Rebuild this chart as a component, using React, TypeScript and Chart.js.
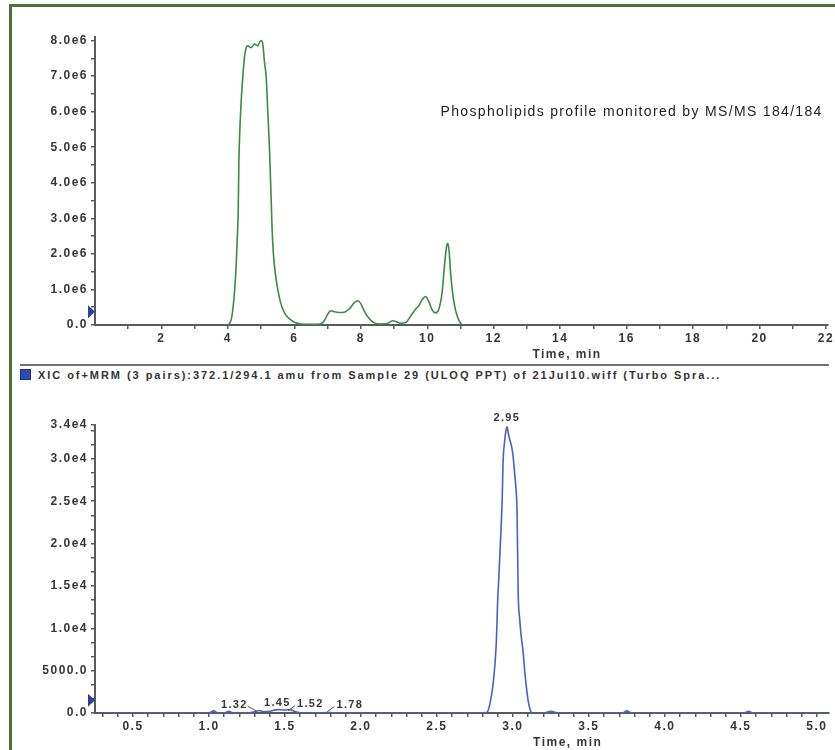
import React, { useEffect, useRef } from 'react';
import { Chart, registerables } from 'chart.js';

Chart.register(...registerables);

// ---------- Top panel: phospholipid profile (MS/MS 184/184) ----------
const topTimes = [
  4.0, 4.05, 4.1, 4.15, 4.2, 4.25, 4.28, 4.31, 4.33, 4.36, 4.4, 4.45, 4.5, 4.55, 4.6, 4.7, 4.8, 4.9, 4.95, 5.0,
  5.05, 5.1, 5.15, 5.2, 5.25, 5.3, 5.33, 5.37, 5.42, 5.5, 5.58, 5.67, 5.77, 5.88, 6.0, 6.2, 6.5, 6.8, 6.9, 7.0,
  7.1, 7.2, 7.35, 7.5, 7.65, 7.8, 7.9, 8.0, 8.1, 8.25, 8.4, 8.6, 8.8, 8.95, 9.05, 9.2, 9.35, 9.5, 9.65, 9.75,
  9.85, 9.95, 10.05, 10.15, 10.25, 10.35, 10.45, 10.52, 10.58, 10.62, 10.66, 10.7, 10.75, 10.82, 10.9, 10.98, 11.05,
];
const topIntensity = [
  0, 50000, 150000, 450000, 950000, 1700000, 2400000, 3200000, 4600000, 5500000, 6300000, 7000000, 7550000, 7800000, 7850000, 7800000, 7900000, 7850000, 7950000, 8000000,
  7900000, 7400000, 7000000, 6000000, 5000000, 3600000, 2700000, 2000000, 1500000, 1000000, 650000, 400000, 250000, 150000, 80000, 30000, 20000, 30000, 120000, 300000,
  400000, 370000, 350000, 360000, 450000, 620000, 680000, 600000, 400000, 180000, 60000, 30000, 40000, 120000, 100000, 50000, 70000, 250000, 450000, 550000,
  720000, 800000, 650000, 420000, 340000, 450000, 950000, 1700000, 2200000, 2300000, 2050000, 1500000, 1000000, 550000, 250000, 80000, 0,
];
const topXRange = [0, 22.06];
const topYRange = [0, 8.1e6];
const topXMajorValues = [2, 4, 6, 8, 10, 12, 14, 16, 18, 20, 22];
const topXMajorLabels = ['2', '4', '6', '8', '10', '12', '14', '16', '18', '20', '22'];
const topYMajorValues = [0, 1e6, 2e6, 3e6, 4e6, 5e6, 6e6, 7e6, 8e6];
const topYMajorLabels = ['0.0', '1.0e6', '2.0e6', '3.0e6', '4.0e6', '5.0e6', '6.0e6', '7.0e6', '8.0e6'];
const topAnnotation = 'Phospholipids profile monitored by MS/MS 184/184';
const topAnnotationAt = [10.4, 6.0e6];
const topMarkerLevel = 0.37e6;

// ---------- Bottom panel: XIC of +MRM 372.1/294.1 ----------
const bottomTimes = [
  0.3, 1.0, 1.03, 1.06, 1.1, 1.13, 1.16, 1.25, 1.3, 1.33, 1.36, 1.4, 1.45, 1.5, 1.53, 1.57, 1.62, 1.75, 1.78, 1.82,
  2.5, 2.8, 2.83, 2.85, 2.87, 2.89, 2.9, 2.91, 2.92, 2.93, 2.935, 2.945, 2.955, 2.962, 2.97, 2.98, 2.99, 3.0, 3.01, 3.02,
  3.027, 3.035, 3.045, 3.055, 3.066, 3.08, 3.1, 3.115, 3.13, 3.2, 3.25, 3.3, 3.72, 3.75, 3.78, 4.52, 4.55, 4.58, 5.05,
];
const bottomIntensity = [
  0, 0, 250, 0, 0, 200, 0, 0, 150, 300, 150, 200, 400, 350, 400, 150, 0, 0, 80, 0,
  0, 0, 100, 1200, 3500, 8000, 13300, 17000, 21000, 25500, 29500, 32000, 33400, 33800, 33000, 32200, 31600, 30500, 28600, 26500,
  24000, 14000, 11000, 9000, 7400, 4500, 1500, 300, 0, 0, 200, 0, 0, 250, 0, 0, 200, 0, 0,
];
const bottomXRange = [0.25, 5.08];
const bottomYRange = [0, 34000];
const bottomXMajorValues = [0.5, 1.0, 1.5, 2.0, 2.5, 3.0, 3.5, 4.0, 4.5, 5.0];
const bottomXMajorLabels = ['0.5', '1.0', '1.5', '2.0', '2.5', '3.0', '3.5', '4.0', '4.5', '5.0'];
const bottomYMajorValues = [0, 5000, 10000, 15000, 20000, 25000, 30000, 34000];
const bottomYMajorLabels = ['0.0', '5000.0', '1.0e4', '1.5e4', '2.0e4', '2.5e4', '3.0e4', '3.4e4'];
const bottomPeakTimes = [1.32, 1.45, 1.52, 1.78, 2.96];
const bottomPeakHeights = [100, 150, 150, 60, 33800];
const bottomPeakLabels = ['1.32', '1.45', '1.52', '1.78', '2.95'];
const bottomMarkerLevel = 1500;

const headerText = 'XIC of+MRM (3 pairs):372.1/294.1 amu from Sample 29 (ULOQ PPT) of 21Jul10.wiff (Turbo Spra...';
const axisTitleText = 'Time, min';

// ---------- helpers ----------
const FONT = '"Liberation Sans", Arial, sans-serif';
const AXIS_COLOR = '#5a5a5a';
const LABEL_COLOR = '#363636';

type TickItem = { value: number; label: string };

function buildTicks(min: number, max: number, minorStep: number, majors: number[], labels: string[]): TickItem[] {
  const out: TickItem[] = [];
  const start = Math.ceil(min / minorStep - 1e-9);
  for (let i = start; i * minorStep <= max + minorStep * 1e-6; i++) {
    out.push({ value: +(i * minorStep).toFixed(6), label: '' });
  }
  majors.forEach((m, k) => {
    const f = out.find((t) => Math.abs(t.value - m) < minorStep * 1e-3);
    if (f) f.label = labels[k];
    else out.push({ value: m, label: labels[k] });
  });
  out.sort((a, b) => a.value - b.value);
  return out;
}

function scaleOptions(axis: 'x' | 'y', range: number[], ticks: TickItem[]) {
  return {
    type: 'linear',
    position: axis === 'x' ? 'bottom' : 'left',
    min: range[0],
    max: range[1],
    z: 1,
    afterBuildTicks: (s: any) => {
      s.ticks = ticks.map((t) => ({ value: t.value }));
    },
    afterFit: (s: any) => {
      if (axis === 'x') {
        s.height = 37;
        s.paddingLeft = 0;
        s.paddingRight = 0;
      } else {
        s.width = 83;
        s.paddingTop = 0;
        s.paddingBottom = 0;
      }
    },
    ticks: {
      autoSkip: false,
      maxRotation: 0,
      minRotation: 0,
      padding: axis === 'x' ? 2 : 3,
      color: LABEL_COLOR,
      font: { family: FONT, size: 12, weight: 'bold' },
      callback: (value: number) => {
        const t = ticks.find((k) => Math.abs(k.value - value) <= 1e-6 * Math.max(1, Math.abs(value)));
        return t ? t.label : '';
      },
    },
    grid: { display: true, drawOnChartArea: false, drawTicks: true, tickLength: 4, color: AXIS_COLOR, lineWidth: 1.5 },
    border: { display: true, color: AXIS_COLOR, width: 2 },
  };
}

const spacingPlugin = {
  id: 'spacing',
  beforeLayout(chart: any) {
    chart.ctx.letterSpacing = '1.5px';
  },
  beforeDraw(chart: any) {
    chart.ctx.letterSpacing = '1.5px';
  },
};

function drawMarker(ctx: CanvasRenderingContext2D, xTip: number, y: number) {
  ctx.save();
  ctx.fillStyle = '#2a3fa6';
  ctx.beginPath();
  ctx.moveTo(xTip, y);
  ctx.lineTo(xTip - 7, y - 6.5);
  ctx.lineTo(xTip - 7, y + 6.5);
  ctx.closePath();
  ctx.fill();
  ctx.restore();
}

function drawAxisTitle(chart: any) {
  const { ctx, chartArea } = chart;
  ctx.save();
  ctx.letterSpacing = '1.5px';
  ctx.font = `bold 12px ${FONT}`;
  ctx.fillStyle = LABEL_COLOR;
  ctx.textAlign = 'center';
  ctx.textBaseline = 'middle';
  ctx.fillText(axisTitleText, chartArea.left + (chartArea.right - chartArea.left) * 0.644, chartArea.bottom + 30);
  ctx.restore();
}

const topOverlay = {
  id: 'topOverlay',
  afterDraw(chart: any) {
    const { ctx, scales } = chart;
    ctx.save();
    ctx.letterSpacing = '1.33px';
    ctx.font = `14px ${FONT}`;
    ctx.fillStyle = '#1e1e1e';
    ctx.textAlign = 'left';
    ctx.textBaseline = 'middle';
    ctx.fillText(topAnnotation, scales.x.getPixelForValue(topAnnotationAt[0]), scales.y.getPixelForValue(topAnnotationAt[1]));
    ctx.restore();
    drawAxisTitle(chart);
    drawMarker(ctx, chart.chartArea.left, scales.y.getPixelForValue(topMarkerLevel));
  },
};

const bottomOverlay = {
  id: 'bottomOverlay',
  afterDraw(chart: any) {
    const { ctx, scales } = chart;
    ctx.save();
    ctx.letterSpacing = '1.3px';
    ctx.font = `bold 11px ${FONT}`;
    ctx.fillStyle = LABEL_COLOR;
    ctx.strokeStyle = '#555';
    ctx.lineWidth = 1;
    ctx.textBaseline = 'bottom';
    bottomPeakTimes.forEach((t, i) => {
      const px = scales.x.getPixelForValue(t);
      const py = scales.y.getPixelForValue(bottomPeakHeights[i]);
      const label = bottomPeakLabels[i];
      if (i === 0) {
        ctx.textAlign = 'right';
        ctx.fillText(label, px - 10, py - 2);
        ctx.beginPath();
        ctx.moveTo(px - 10, py - 6);
        ctx.lineTo(px - 1, py - 1);
        ctx.stroke();
      } else if (i === 2 || i === 3) {
        ctx.textAlign = 'left';
        ctx.fillText(label, px + 9, py - 2);
        ctx.beginPath();
        ctx.moveTo(px, py - 1);
        ctx.lineTo(px + 7, py - 6);
        ctx.stroke();
      } else {
        ctx.textAlign = 'center';
        ctx.fillText(label, px, py - 3);
      }
    });
    ctx.restore();
    drawAxisTitle(chart);
    drawMarker(ctx, chart.chartArea.left, scales.y.getPixelForValue(bottomMarkerLevel));
  },
};

function makeConfig(
  times: number[],
  values: number[],
  color: string,
  xRange: number[],
  yRange: number[],
  xTicks: TickItem[],
  yTicks: TickItem[],
  padding: any,
  overlay: any
): any {
  return {
    type: 'line',
    data: {
      datasets: [
        {
          data: times.map((t, i) => ({ x: t, y: values[i] })),
          borderColor: color,
          borderWidth: 1.6,
          pointRadius: 0,
          fill: false,
          cubicInterpolationMode: 'monotone',
        },
      ],
    },
    options: {
      animation: false,
      responsive: false,
      devicePixelRatio: 1,
      layout: { padding },
      plugins: { legend: { display: false }, tooltip: { enabled: false }, title: { display: false } },
      scales: {
        x: scaleOptions('x', xRange, xTicks),
        y: scaleOptions('y', yRange, yTicks),
      },
    },
    plugins: [spacingPlugin, overlay],
  };
}

export default function App() {
  const topRef = useRef<HTMLCanvasElement>(null);
  const bottomRef = useRef<HTMLCanvasElement>(null);

  useEffect(() => {
    document.body.style.overflow = 'hidden';
    const topChart = new Chart(
      topRef.current as HTMLCanvasElement,
      makeConfig(
        topTimes,
        topIntensity,
        '#3b8a47',
        topXRange,
        topYRange,
        buildTicks(1, topXRange[1], 1, topXMajorValues, topXMajorLabels),
        buildTicks(0, topYRange[1], 500000, topYMajorValues, topYMajorLabels),
        { top: 29, right: 7, left: 0, bottom: 0 },
        topOverlay
      )
    );
    const bottomChart = new Chart(
      bottomRef.current as HTMLCanvasElement,
      makeConfig(
        bottomTimes,
        bottomIntensity,
        '#4b5fc9',
        bottomXRange,
        bottomYRange,
        buildTicks(0.3, bottomXRange[1], 0.1, bottomXMajorValues, bottomXMajorLabels),
        buildTicks(0, bottomYRange[1], 5000 / 3, bottomYMajorValues, bottomYMajorLabels),
        { top: 41, right: 6, left: 0, bottom: 0 },
        bottomOverlay
      )
    );
    return () => {
      topChart.destroy();
      bottomChart.destroy();
    };
  }, []);

  return (
    <div>
      <div
        style={{
          position: 'absolute',
          left: 9,
          top: 4,
          width: 826,
          height: 746,
          borderTop: '3px solid #4d7033',
          borderLeft: '3px solid #4d7033',
          boxSizing: 'border-box',
        }}
      />
      <canvas ref={topRef} width={823} height={354} style={{ position: 'absolute', left: 12, top: 8, display: 'block' }} />
      <div style={{ position: 'absolute', left: 20, top: 364, width: 809, height: 2, background: '#707070' }} />
      <div
        style={{
          position: 'absolute',
          left: 20,
          top: 369,
          width: 11,
          height: 11,
          background: '#2c4bb5',
          border: '1px solid #1c2f80',
          boxSizing: 'border-box',
        }}
      />
      <div
        style={{
          position: 'absolute',
          left: 38,
          top: 368,
          font: `bold 11px ${FONT}`,
          letterSpacing: '1.95px',
          color: '#333',
          whiteSpace: 'nowrap',
          lineHeight: '14px',
        }}
      >
        {headerText}
      </div>
      <canvas ref={bottomRef} width={823} height={366} style={{ position: 'absolute', left: 12, top: 384, display: 'block' }} />
    </div>
  );
}
